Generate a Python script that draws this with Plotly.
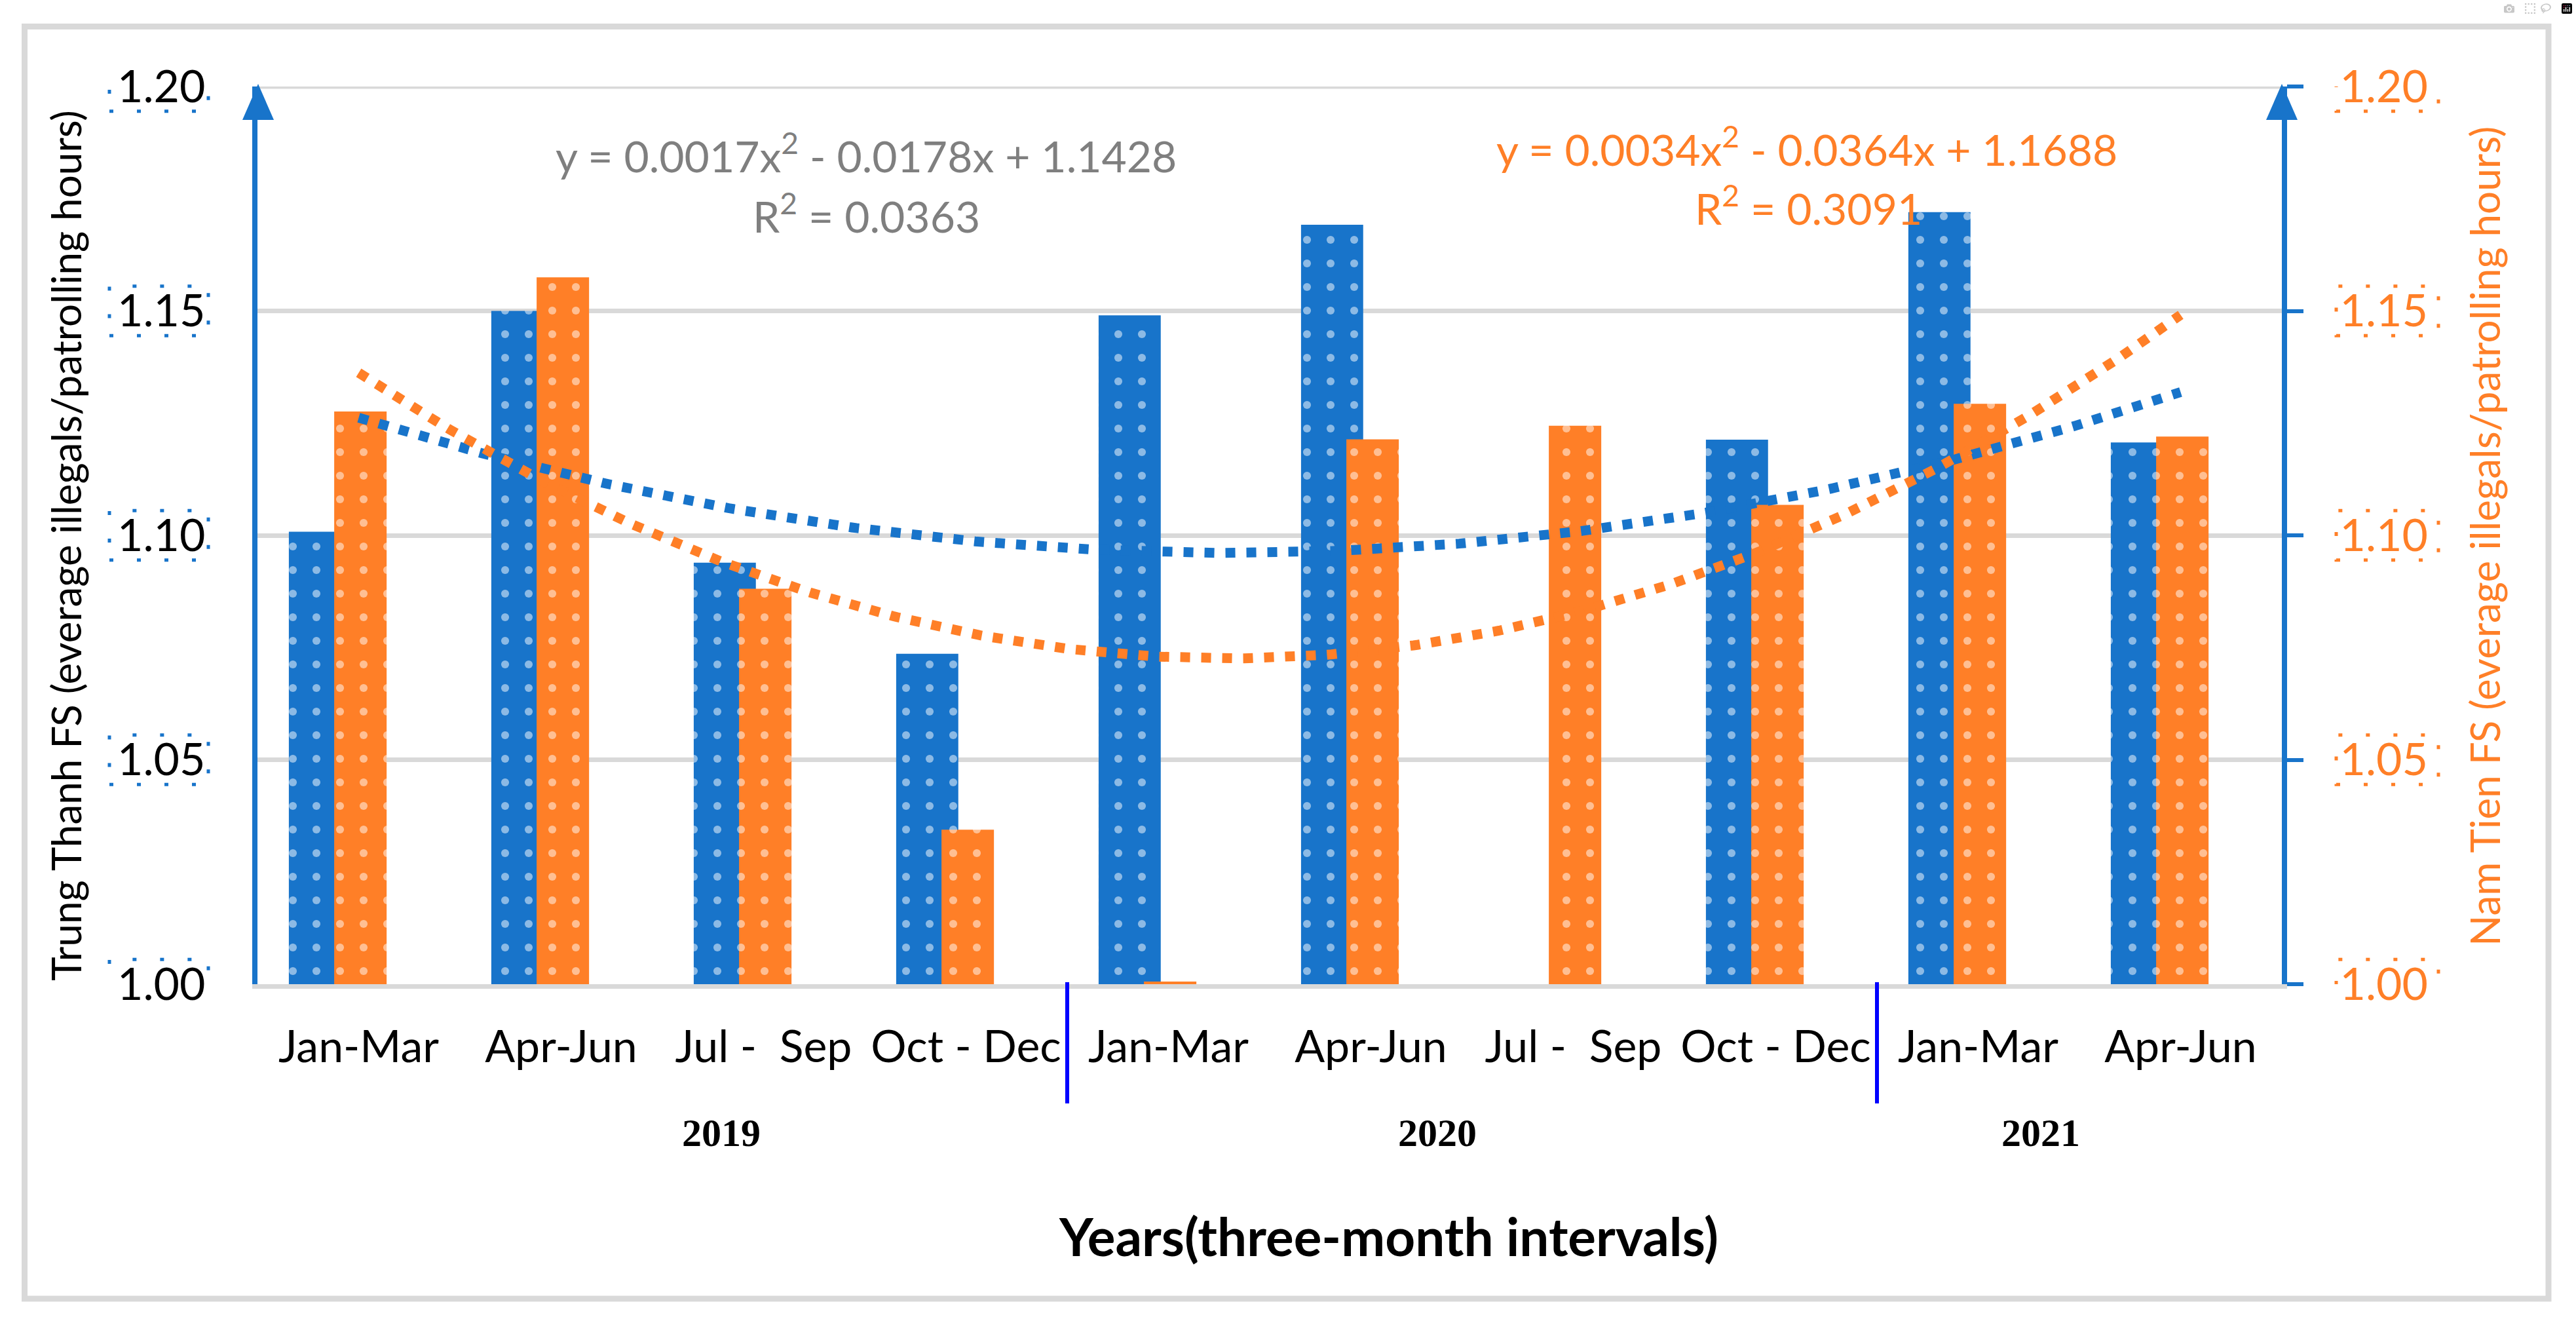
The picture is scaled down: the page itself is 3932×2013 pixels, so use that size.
import numpy as np
import plotly.graph_objects as go

# ---------------- data ----------------
quarters = ["Jan-Mar", "Apr-Jun", "Jul - \u00a0Sep", "Oct - Dec",
            "Jan-Mar", "Apr-Jun", "Jul - \u00a0Sep", "Oct - Dec",
            "Jan-Mar", "Apr-Jun"]
years = ["2019", "2020", "2021"]
trung_thanh = [1.1008, 1.1500, 1.0939, 1.0736, 1.1490, 1.1692, 0.945, 1.1213, 1.1720, 1.1207]
nam_tien = [1.1276, 1.1575, 1.0881, 1.0344, 1.0006, 1.1214, 1.1244, 1.1068, 1.1293, 1.1220]
y_ticks = [1.00, 1.05, 1.10, 1.15, 1.20]
eq_trung = ["y = 0.0017x<sup>2</sup> - 0.0178x + 1.1428", "R<sup>2</sup> = 0.0363"]
eq_nam = ["y = 0.0034x<sup>2</sup> - 0.0364x + 1.1688", "R<sup>2</sup> = 0.3091"]
y_title_left = "Trung Thanh FS (everage illegals/patrolling hours)"
y_title_right = "Nam Tien FS (everage illegals/patrolling hours)"
x_title = "Years(three-month intervals)"

# ---------------- styles / geometry ----------------
W, H = 3932, 2013
PL, PR, PT, PB = 393, 3483, 132, 1502
BLUE = "#1874CA"
ORANGE = "#FF7F27"
GRID = "#D9D9D9"
GRAY = "#7F7F7F"
SEP = "#0000FF"
FONT = "Liberation Sans Narrow, Arial Narrow, Lato, sans-serif"
SERIF = "Liberation Serif, Times New Roman, serif"


def pxx(px):
    return (px - PL) / (PR - PL)


def pxy(py):
    return (PB - py) / (PB - PT)


x_idx = np.arange(1, len(quarters) + 1)

fig = go.Figure()

fig.add_trace(go.Bar(
    x=x_idx, y=trung_thanh, width=0.307, offset=-0.345, yaxis="y",
    marker=dict(color=BLUE, line=dict(width=0),
                pattern=dict(shape=".", fgcolor="white", bgcolor=BLUE,
                             fillmode="overlay", size=36, solidity=0.09)),
    name="Trung Thanh FS"))
fig.add_trace(go.Bar(
    x=x_idx, y=nam_tien, width=0.259, offset=-0.121, yaxis="y2",
    marker=dict(color=ORANGE, line=dict(width=0),
                pattern=dict(shape=".", fgcolor="white", bgcolor=ORANGE,
                             fillmode="overlay", size=36, solidity=0.09)),
    name="Nam Tien FS"))

# polynomial (order 2) trendlines fitted to the bar values
xs = np.linspace(1, len(quarters), 400)
for vals, col in ((trung_thanh, BLUE), (nam_tien, ORANGE)):
    coef = np.polyfit(x_idx, vals, 2)
    fig.add_trace(go.Scatter(
        x=xs, y=np.polyval(coef, xs), mode="lines", yaxis="y2",
        line=dict(color=col, width=15, dash="15px,17px"),
        hoverinfo="skip", showlegend=False))

shapes = []
# outer light-gray frame
shapes.append(dict(type="rect", xref="paper", yref="paper",
                   x0=pxx(37.5), x1=pxx(3890), y0=pxy(1982), y1=pxy(40.5),
                   line=dict(color=GRID, width=9), layer="below"))
# top gridline (1.20)
shapes.append(dict(type="line", xref="paper", yref="y", x0=0, x1=1,
                   y0=y_ticks[-1], y1=y_ticks[-1],
                   line=dict(color=GRID, width=7), layer="below"))
# arrow heads on both value axes
for ax_px in (394, 3483):
    xc = pxx(ax_px)
    dx = 24 / (PR - PL)
    shapes.append(dict(type="path", xref="paper", yref="paper",
                       path=f"M {xc - dx},{pxy(183)} L {xc},{pxy(128)} L {xc + dx},{pxy(183)} Z",
                       fillcolor=BLUE, line=dict(width=0)))
# dotted selection boxes around tick labels
for t in y_ticks:
    shapes.append(dict(type="rect", xref="paper", yref="y",
                       x0=pxx(167), x1=pxx(318), y0=t - 0.0055, y1=t + 0.0055,
                       line=dict(color=BLUE, width=5, dash="6px,36px")))
    shapes.append(dict(type="rect", xref="paper", yref="y",
                       x0=pxx(3566), x1=pxx(3722), y0=t - 0.0055, y1=t + 0.0055,
                       line=dict(color=ORANGE, width=5, dash="6px,36px")))
# year separators
for xv in (4.5, 8.5):
    shapes.append(dict(type="line", xref="x", yref="paper",
                       x0=xv, x1=xv, y0=pxy(1684), y1=pxy(1499),
                       line=dict(color=SEP, width=6)))

annotations = []


def note(text, x, y, font, xref="paper", yref="paper", **kw):
    annotations.append(dict(text=text, xref=xref, yref=yref, x=x, y=y,
                            xanchor="center", yanchor="middle",
                            showarrow=False, font=font, **kw))


for i, line in enumerate(eq_trung):
    note(line, pxx(1322), pxy([233, 325][i]), dict(family=FONT, size=66, color=GRAY))
for i, line in enumerate(eq_nam):
    note(line, pxx([2758, 2760][i]), pxy([223, 313][i]), dict(family=FONT, size=66, color=ORANGE))
for yr, xv in zip(years, (2.79, 6.33, 9.31)):
    note(yr, xv, pxy(1729), dict(family=SERIF, size=60, color="black", weight=700), xref="x")
note(x_title, pxx(2119), pxy(1886), dict(family=FONT, size=80, color="black", weight=700))
note(y_title_left, pxx(100), pxy(833), dict(family=FONT, size=62, color="black"), textangle=-90)
note(y_title_right, pxx(3792), pxy(819), dict(family=FONT, size=62, color=ORANGE), textangle=-90)

fig.update_layout(
    width=W, height=H,
    margin=dict(l=PL, r=W - PR, t=PT, b=H - PB, autoexpand=False),
    paper_bgcolor="white", plot_bgcolor="white",
    barmode="overlay", showlegend=False,
    font=dict(family=FONT),
    xaxis=dict(range=[0.5, len(quarters) + 0.5], tickvals=x_idx, ticktext=quarters,
               showgrid=False, zeroline=False, showline=True, linecolor=GRID, linewidth=7,
               ticks="", tickfont=dict(family=FONT, size=68, color="black"),
               ticklabelstandoff=30, fixedrange=True),
    yaxis=dict(range=[1.0, 1.2], tickvals=y_ticks, tickformat=".2f",
               showgrid=True, gridcolor=GRID, gridwidth=7, zeroline=False,
               showline=True, linecolor=BLUE, linewidth=8, ticks="",
               tickfont=dict(family=FONT, size=68, color="black"),
               ticklabelstandoff=58, fixedrange=True),
    yaxis2=dict(range=[1.0, 1.2], tickvals=y_ticks, tickformat=".2f",
                overlaying="y", side="right", showgrid=False, zeroline=False,
                showline=True, linecolor=BLUE, linewidth=8,
                ticks="outside", ticklen=25, tickwidth=6, tickcolor=BLUE,
                tickfont=dict(family=FONT, size=68, color=ORANGE),
                ticklabelstandoff=42, fixedrange=True),
    shapes=shapes, annotations=annotations,
)

fig.write_html("out.html", include_plotlyjs=True, full_html=True,
               post_script="document.body.style.margin='0';document.body.style.overflow='hidden';")
